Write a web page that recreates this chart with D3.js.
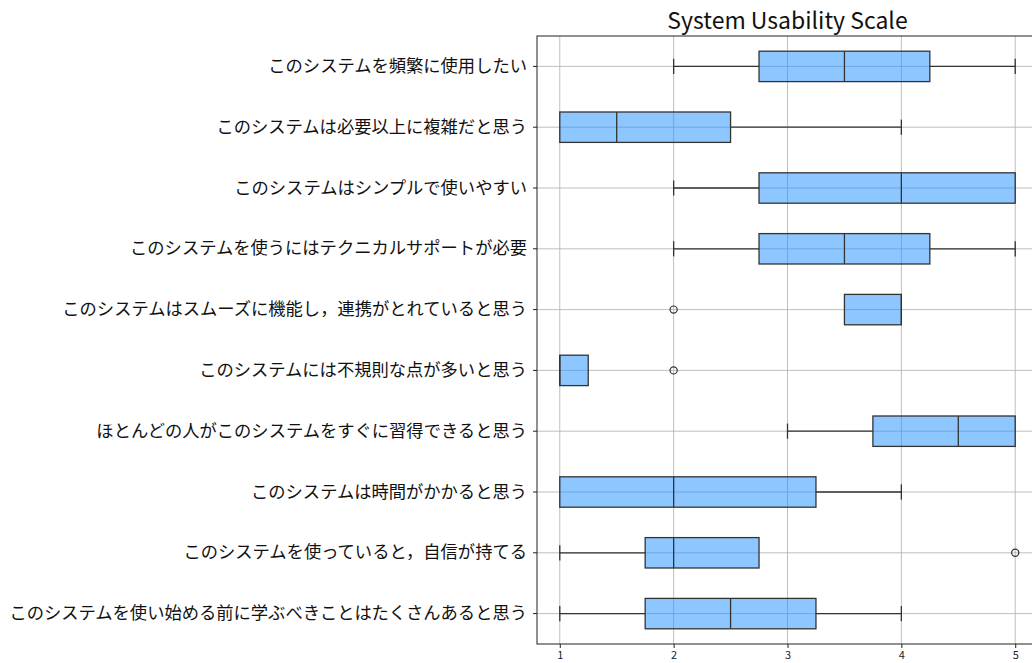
<!DOCTYPE html>
<html>
<head>
<meta charset="utf-8">
<script src="https://cdn.jsdelivr.net/npm/d3@7"></script>
<style>
  html, body { margin: 0; padding: 0; background: #fff; }
  svg { display: block; }
  text { font-family: "Noto Sans CJK JP", "Noto Sans", sans-serif; fill: #111; }
</style>
</head>
<body>
<svg id="chart" width="1032" height="663"></svg>
<script>
// SUS questionnaire items, top to bottom
const questions = [
  "このシステムを頻繁に使用したい",
  "このシステムは必要以上に複雑だと思う",
  "このシステムはシンプルで使いやすい",
  "このシステムを使うにはテクニカルサポートが必要",
  "このシステムはスムーズに機能し，連携がとれていると思う",
  "このシステムには不規則な点が多いと思う",
  "ほとんどの人がこのシステムをすぐに習得できると思う",
  "このシステムは時間がかかると思う",
  "このシステムを使っていると，自信が持てる",
  "このシステムを使い始める前に学ぶべきことはたくさんあると思う"
];
// five-number summaries per item
const whiskerLow  = [2,    1,   2,    2,    3.5, 1,    3,    1,    1,    1];
const q1          = [2.75, 1,   2.75, 2.75, 3.5, 1,    3.75, 1,    1.75, 1.75];
const median      = [3.5,  1.5, 4,    3.5,  4,   1,    4.5,  2,    2,    2.5];
const q3          = [4.25, 2.5, 5,    4.25, 4,   1.25, 5,    3.25, 2.75, 3.25];
const whiskerHigh = [5,    4,   5,    5,    4,   1.25, 5,    4,    2.75, 4];
const outliers    = [[], [], [], [], [2], [2], [], [], [5], []];
const xTicks = [1, 2, 3, 4, 5];

const svg = d3.select("#chart");
const margin = { left: 537, top: 36, right: -6, bottom: 20 };
const W = 1032, H = 663;
const plotBottom = 644;

const x = d3.scaleLinear().domain([0.8, 5.2]).range([margin.left, W - margin.right]);
const y = d3.scaleBand().domain(questions).range([margin.top, plotBottom]).padding(0);

// grid
const grid = svg.append("g");
grid.selectAll("line.gx").data(xTicks).join("line")
  .attr("x1", d => x(d)).attr("x2", d => x(d))
  .attr("y1", margin.top).attr("y2", plotBottom)
  .attr("stroke", "#b0b0b0").attr("stroke-width", 1).attr("opacity", 0.8);
grid.selectAll("line.gy").data(questions).join("line")
  .attr("x1", margin.left).attr("x2", W - margin.right)
  .attr("y1", d => y(d) + y.bandwidth() / 2).attr("y2", d => y(d) + y.bandwidth() / 2)
  .attr("stroke", "#b0b0b0").attr("stroke-width", 1).attr("opacity", 0.8);

const rows = questions.map((q, i) => ({
  q, lo: whiskerLow[i], q1: q1[i], med: median[i], q3: q3[i], hi: whiskerHigh[i], out: outliers[i]
}));

const boxH = y.bandwidth() * 0.5;
const capH = boxH * 0.5;
const g = svg.append("g");

rows.forEach(r => {
  const cy = y(r.q) + y.bandwidth() / 2;
  const stroke = "#333";
  // whiskers
  if (r.lo < r.q1) {
    g.append("line").attr("x1", x(r.lo)).attr("x2", x(r.q1)).attr("y1", cy).attr("y2", cy)
      .attr("stroke", stroke).attr("stroke-width", 1.3);
    g.append("line").attr("x1", x(r.lo)).attr("x2", x(r.lo)).attr("y1", cy - capH / 2).attr("y2", cy + capH / 2)
      .attr("stroke", stroke).attr("stroke-width", 1.3);
  }
  if (r.hi > r.q3) {
    g.append("line").attr("x1", x(r.q3)).attr("x2", x(r.hi)).attr("y1", cy).attr("y2", cy)
      .attr("stroke", stroke).attr("stroke-width", 1.3);
    g.append("line").attr("x1", x(r.hi)).attr("x2", x(r.hi)).attr("y1", cy - capH / 2).attr("y2", cy + capH / 2)
      .attr("stroke", stroke).attr("stroke-width", 1.3);
  }
  // box
  g.append("rect")
    .attr("x", x(r.q1)).attr("y", cy - boxH / 2)
    .attr("width", x(r.q3) - x(r.q1)).attr("height", boxH)
    .attr("fill", "#1e90ff").attr("fill-opacity", 0.5)
    .attr("stroke", stroke).attr("stroke-width", 1.3);
  // median
  g.append("line").attr("x1", x(r.med)).attr("x2", x(r.med))
    .attr("y1", cy - boxH / 2).attr("y2", cy + boxH / 2)
    .attr("stroke", stroke).attr("stroke-width", 1.3);
  // outliers
  r.out.forEach(v => {
    g.append("circle").attr("cx", x(v)).attr("cy", cy).attr("r", 3.6)
      .attr("fill", "none").attr("stroke", stroke).attr("stroke-width", 1.2);
  });
});

// frame
svg.append("rect")
  .attr("x", margin.left).attr("y", margin.top)
  .attr("width", W - margin.right - margin.left).attr("height", plotBottom - margin.top)
  .attr("fill", "none").attr("stroke", "#222").attr("stroke-width", 1);

// axes
const xAxis = svg.append("g").attr("transform", `translate(0,${plotBottom})`)
  .call(d3.axisBottom(x).tickValues(xTicks).tickFormat(d3.format("d")).tickSize(4).tickPadding(3));
xAxis.select(".domain").remove();
xAxis.selectAll("text").attr("font-size", 11).style("fill", "#222");
xAxis.selectAll("line").attr("stroke", "#222");

const yAxis = svg.append("g").attr("transform", `translate(${margin.left},0)`)
  .call(d3.axisLeft(y).tickSize(4).tickPadding(6));
yAxis.select(".domain").remove();
yAxis.selectAll("text").attr("font-size", 17.3).style("fill", "#111");
yAxis.selectAll("line").attr("stroke", "#222");

// title
svg.append("text")
  .attr("x", (margin.left + W - margin.right) / 2).attr("y", 29)
  .attr("text-anchor", "middle").attr("font-size", 23)
  .text("System Usability Scale");
</script>
</body>
</html>
